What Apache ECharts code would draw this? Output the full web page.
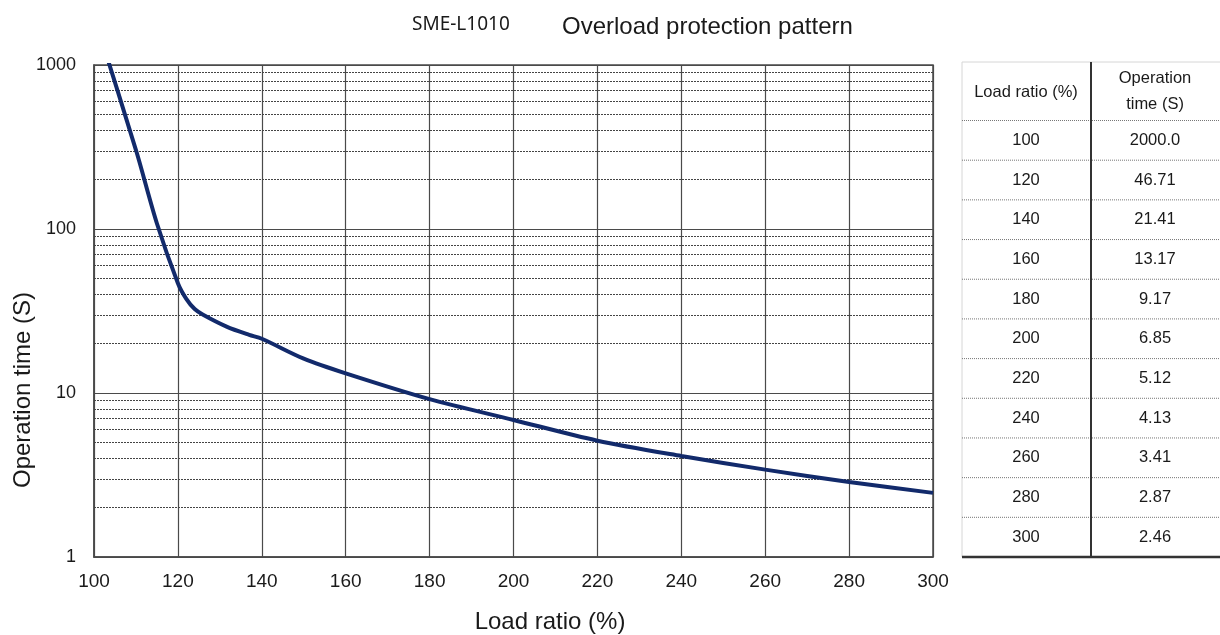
<!DOCTYPE html>
<html>
<head>
<meta charset="utf-8">
<script src="https://cdn.jsdelivr.net/npm/echarts@6/dist/echarts.min.js"></script>
<style>
html,body{margin:0;padding:0;background:#fff;}
#c{width:1220px;height:635px;}
</style>
</head>
<body>
<div id="c"></div>
<script>
// ---- data ----
var tableLoad = [100, 120, 140, 160, 180, 200, 220, 240, 260, 280, 300];
var tableTime = ['2000.0', '46.71', '21.41', '13.17', '9.17', '6.85', '5.12', '4.13', '3.41', '2.87', '2.46'];
// curve points (table values plus knee points)
var curveLoad = [100, 110, 115, 120, 122, 124, 126, 131.6, 137, 140, 150, 160, 180, 200, 220, 240, 260, 280, 300];
var curveTime = [2000, 303, 108, 46.71, 37.5, 32.5, 30, 25.4, 22.6, 21.41, 16.2, 13.17, 9.17, 6.85, 5.12, 4.13, 3.41, 2.87, 2.46];
var minorLines = [2, 3, 4, 5, 6, 7, 8, 9, 20, 30, 40, 50, 60, 70, 80, 90, 200, 300, 400, 500, 600, 700, 800, 900];
var xTicks = { min: 100, max: 300, step: 20 };
var yRange = { min: 1, max: 1000 };
var titleModel = 'SME-L1010';
var titleMain = 'Overload protection pattern';
var xName = 'Load ratio (%)';
var yName = 'Operation time (S)';
var tableHead1 = 'Load ratio (%)';
var tableHead2 = ['Operation', 'time (S)'];

// ---- build ----
var curveData = curveLoad.map(function (x, i) { return [x, curveTime[i]]; });
var gridCol = '#4a4a4a';
var font = 'Liberation Sans, Arial, sans-serif';

// table graphics
var tL = 962, tR = 1220, tDiv = 1091, tTop = 62, tHeadBottom = 120.5, tBottom = 557, rowH = (tBottom - tHeadBottom) / tableLoad.length;
var c1 = 1026, c2 = 1155;
var g = [];
g.push({ type: 'text', x: 412, y: 25, style: { text: titleModel, font: '19px "Noto Sans"', fill: '#1a1a1a', verticalAlign: 'middle' } });
g.push({ type: 'text', x: 562, y: 27, style: { text: titleMain, font: '24px ' + font, fill: '#1a1a1a', verticalAlign: 'middle' } });
g.push({ type: 'text', x: 550, y: 622, style: { text: xName, font: '24px ' + font, fill: '#1a1a1a', align: 'center', verticalAlign: 'middle' } });
g.push({ type: 'text', x: 23, y: 390, rotation: Math.PI / 2, style: { text: yName, font: '24px ' + font, fill: '#1a1a1a', align: 'center', verticalAlign: 'middle' } });
g.push({ type: 'line', shape: { x1: tL, y1: tTop, x2: tL, y2: tBottom }, style: { stroke: '#d6d6d6', lineWidth: 1 } });
g.push({ type: 'line', shape: { x1: tL, y1: tTop, x2: tR, y2: tTop }, style: { stroke: '#d6d6d6', lineWidth: 1 } });
for (var i = 0; i < tableLoad.length; i++) {
  var ys = tHeadBottom + i * rowH;
  g.push({ type: 'line', shape: { x1: tL, y1: ys, x2: tR, y2: ys }, style: { stroke: '#777', lineWidth: 1, lineDash: [1, 1] } });
  var yc = ys + rowH / 2;
  g.push({ type: 'text', x: c1, y: yc, style: { text: String(tableLoad[i]), font: '16.5px ' + font, fill: '#1a1a1a', align: 'center', verticalAlign: 'middle' } });
  g.push({ type: 'text', x: c2, y: yc, style: { text: tableTime[i], font: '16.5px ' + font, fill: '#1a1a1a', align: 'center', verticalAlign: 'middle' } });
}
g.push({ type: 'line', shape: { x1: tL, y1: tBottom, x2: tR, y2: tBottom }, style: { stroke: '#333', lineWidth: 2.5 } });
g.push({ type: 'line', shape: { x1: tDiv, y1: tTop, x2: tDiv, y2: tBottom }, style: { stroke: '#333', lineWidth: 2 } });
g.push({ type: 'text', x: c1, y: 92, style: { text: tableHead1, font: '16.5px ' + font, fill: '#1a1a1a', align: 'center', verticalAlign: 'middle' } });
g.push({ type: 'text', x: c2, y: 78, style: { text: tableHead2[0], font: '16.5px ' + font, fill: '#1a1a1a', align: 'center', verticalAlign: 'middle' } });
g.push({ type: 'text', x: c2, y: 104, style: { text: tableHead2[1], font: '16.5px ' + font, fill: '#1a1a1a', align: 'center', verticalAlign: 'middle' } });

var chart = echarts.init(document.getElementById('c'), null, { renderer: 'canvas' });
chart.setOption({
  animation: false,
  backgroundColor: '#fff',
  grid: { left: 94, right: 287, top: 65, bottom: 78, show: true, borderColor: gridCol, borderWidth: 1.5, containLabel: false, outerBoundsMode: 'none' },
  xAxis: {
    type: 'value', min: xTicks.min, max: xTicks.max, interval: xTicks.step,
    axisLine: { show: true, lineStyle: { color: gridCol, width: 1.5 } },
    axisTick: { show: false },
    splitLine: { show: true, lineStyle: { color: gridCol, width: 1.2, type: 'solid' } },
    axisLabel: { color: '#1a1a1a', fontSize: 19, fontFamily: font, margin: 15 }
  },
  yAxis: {
    type: 'log', logBase: 10, min: yRange.min, max: yRange.max,
    axisLine: { show: true, lineStyle: { color: gridCol, width: 1.5 } },
    axisTick: { show: false },
    splitLine: { show: true, lineStyle: { color: gridCol, width: 1.2, type: 'solid' } },
    axisLabel: { color: '#1a1a1a', fontSize: 18, fontFamily: font, margin: 18, formatter: function (v) { return String(Math.round(v)); } }
  },
  graphic: g,
  series: [
    {
      type: 'line', data: [], silent: true, z: 1,
      markLine: {
        silent: true, symbol: ['none', 'none'], animation: false,
        label: { show: false },
        lineStyle: { color: '#444', width: 1, type: [2, 1] },
        emphasis: { disabled: true },
        data: minorLines.map(function (v) { return { yAxis: v }; })
      }
    },
    {
      type: 'line', data: curveData, z: 5, showSymbol: false, symbol: 'none',
      smooth: 0.3, clip: true,
      lineStyle: { color: '#122a6b', width: 4 }
    }
  ]
});
</script>
</body>
</html>
